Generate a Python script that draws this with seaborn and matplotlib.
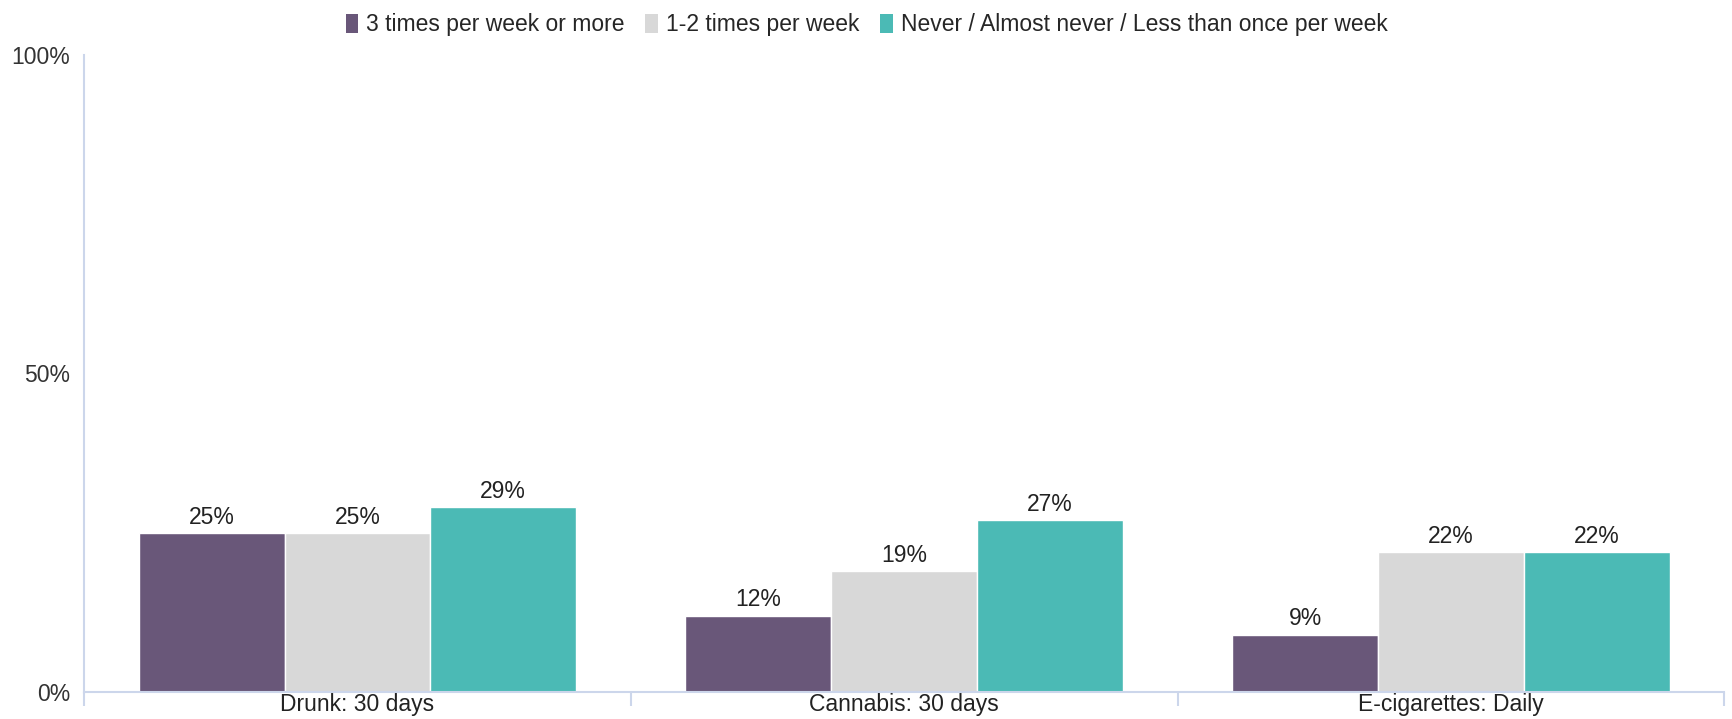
import seaborn as sns
import matplotlib.pyplot as plt
import pandas as pd
from matplotlib.patches import Patch

categories = ["Drunk: 30 days", "Cannabis: 30 days", "E-cigarettes: Daily"]
series = ["3 times per week or more", "1-2 times per week",
          "Never / Almost never / Less than once per week"]
values_3plus = [25, 12, 9]
values_1to2 = [25, 19, 22]
values_never = [29, 27, 22]
colors = ["#695779", "#d8d8d8", "#4bbab5"]

rows = []
for name, vals in zip(series, [values_3plus, values_1to2, values_never]):
    for cat, v in zip(categories, vals):
        rows.append({"category": cat, "series": name, "value": v})
df = pd.DataFrame(rows)

sns.set_style("white")
plt.rcParams['font.family'] = ['Liberation Sans', 'DejaVu Sans']

fig = plt.figure(figsize=(17.33, 7.19), dpi=100)
ax = fig.add_axes([0.0485, 0.0376, 0.9465, 0.886])

sns.barplot(data=df, x="category", y="value", hue="series", palette=colors,
            saturation=1, width=0.8, edgecolor="white", linewidth=1, ax=ax,
            legend=False)

for cont in ax.containers:
    ax.bar_label(cont, labels=[f"{int(v)}%" for v in cont.datavalues],
                 padding=3, fontsize=16.5, color="#222222")

ax.set_ylim(0, 100)
ax.set_xlim(-0.5, 2.5)
ax.set_yticks([0, 50, 100])
ax.set_yticklabels(["0%", "50%", "100%"], fontsize=16.5, color="#333333")
ax.set_xticks([0, 1, 2])
ax.set_xticklabels(categories, fontsize=16.5, color="#222222")
ax.tick_params(axis="x", length=0, pad=1)
ax.tick_params(axis="y", length=0, pad=10)
ax.set_xticks([-0.5, 0.5, 1.5, 2.5], minor=True)
ax.tick_params(axis="x", which="minor", bottom=True, length=10,
               color="#ccd6eb", width=1.5)
ax.set_xlabel("")
ax.set_ylabel("")

for s in ["top", "right"]:
    ax.spines[s].set_visible(False)
for s in ["left", "bottom"]:
    ax.spines[s].set_color("#ccd6eb")
    ax.spines[s].set_linewidth(1.5)

handles = [Patch(facecolor=c, edgecolor="none") for c in colors]
fig.legend(handles, series, loc="upper center", bbox_to_anchor=(0.5, 1.01),
           ncol=3, frameon=False, fontsize=16.5, handlelength=0.55,
           handleheight=0.9, handletextpad=0.35, columnspacing=0.9)

fig.savefig("out.png", dpi=100)
